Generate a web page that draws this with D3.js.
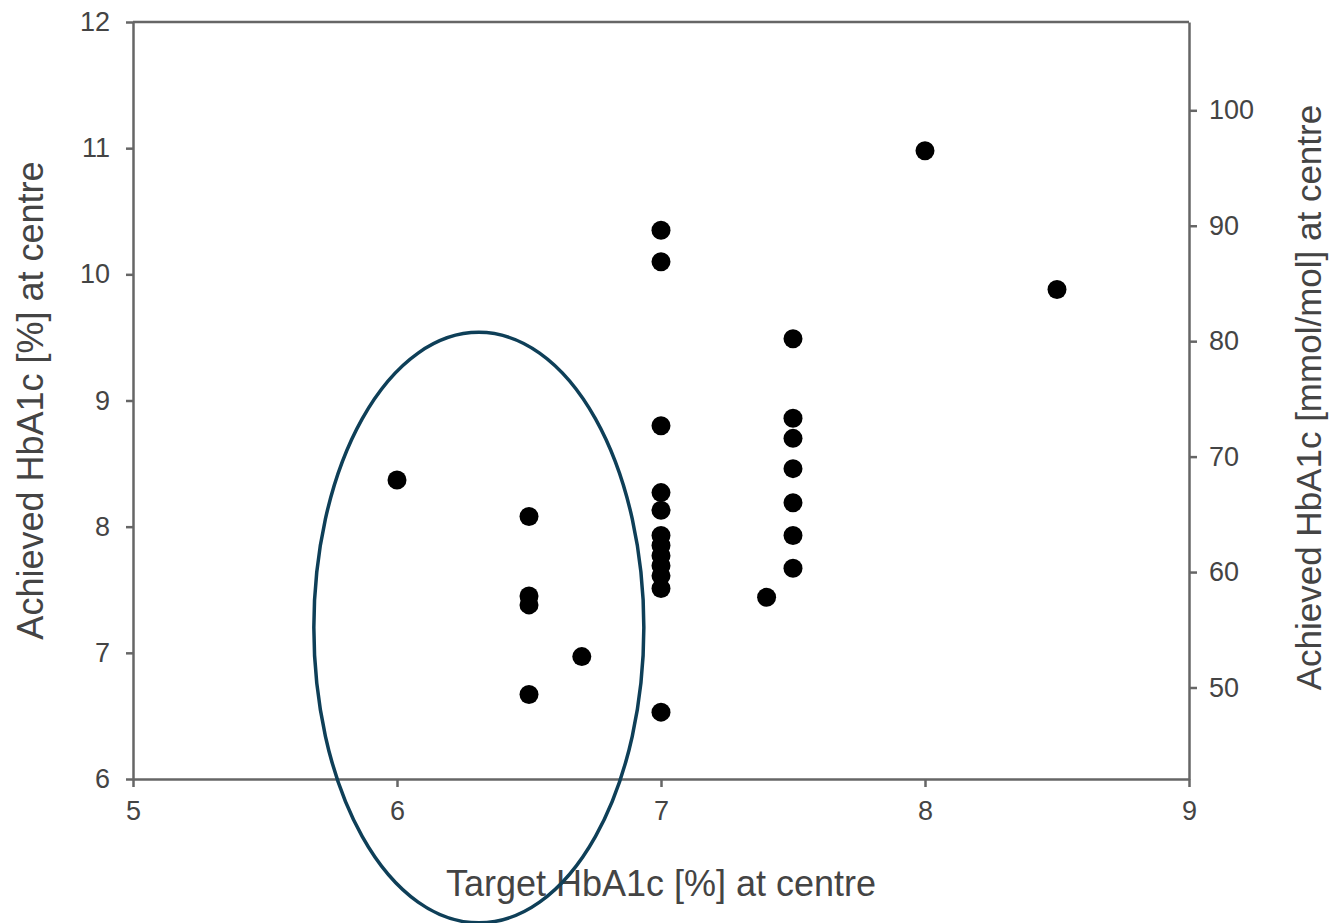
<html>
<head>
<meta charset="utf-8">
<script src="https://d3js.org/d3.v7.min.js"></script>
<style>
body { margin: 0; background: #fff; }
svg text { font-family: "Liberation Sans", Arial, sans-serif; fill: #444; }
.axis path, .axis line { stroke: #666; stroke-width: 2.5; }
</style>
</head>
<body>
<svg width="1332" height="923"></svg>
<script>
// target HbA1c (%) per centre
var targetPct = [6.0, 6.5, 6.5, 6.5, 6.5, 6.7,
  7.0, 7.0, 7.0, 7.0, 7.0, 7.0, 7.0, 7.0, 7.0, 7.0, 7.0, 7.0,
  7.4, 7.5, 7.5, 7.5, 7.5, 7.5, 7.5, 7.5, 8.0, 8.5];
// achieved HbA1c (%) per centre
var achievedPct = [8.37, 8.08, 7.45, 7.38, 6.67, 6.97,
  10.35, 10.10, 8.80, 8.27, 8.13, 7.93, 7.85, 7.77, 7.69, 7.61, 7.51, 6.53,
  7.44, 9.49, 8.86, 8.70, 8.46, 8.19, 7.93, 7.67, 10.98, 9.88];

var xTicks = [5, 6, 7, 8, 9];
var yTicks = [6, 7, 8, 9, 10, 11, 12];
var mmolTicks = [50, 60, 70, 80, 90, 100];

// highlight ellipse (centre x, centre y, radius x, radius y) in data units
var ring = [6.31, 7.20, 0.625, 2.34];

var toMmol = p => 10.929 * p - 23.5;

var svg = d3.select("svg"),
    margin = {top: 22, right: 143, bottom: 144, left: 133},
    width = +svg.attr("width"),
    height = +svg.attr("height");

var x = d3.scaleLinear().domain([5, 9]).range([margin.left, width - margin.right]);
var y = d3.scaleLinear().domain([6, 12]).range([height - margin.bottom, margin.top]);
var y2 = d3.scaleLinear().domain([toMmol(6), toMmol(12)]).range(y.range());

// frame
svg.append("line").attr("x1", x(5)).attr("x2", x(9)).attr("y1", y(12)).attr("y2", y(12))
    .attr("stroke", "#666").attr("stroke-width", 2.5);

svg.append("g").attr("class", "axis")
    .attr("transform", "translate(0," + y(6) + ")")
    .call(d3.axisBottom(x).tickValues(xTicks).tickFormat(d3.format("d"))
        .tickSize(8).tickSizeOuter(0).tickPadding(14))
    .selectAll("text").style("font-size", "27px");

svg.append("g").attr("class", "axis")
    .attr("transform", "translate(" + x(5) + ",0)")
    .call(d3.axisLeft(y).tickValues(yTicks).tickFormat(d3.format("d"))
        .tickSize(7).tickSizeOuter(0).tickPadding(16))
    .selectAll("text").style("font-size", "27px");

svg.append("g").attr("class", "axis")
    .attr("transform", "translate(" + x(9) + ",0)")
    .call(d3.axisRight(y2).tickValues(mmolTicks).tickSize(8).tickSizeOuter(0).tickPadding(12))
    .selectAll("text").style("font-size", "27px");

svg.selectAll(".axis .domain").attr("stroke", "#666");

// titles
svg.append("text")
    .attr("x", (x(5) + x(9)) / 2).attr("y", 896)
    .attr("text-anchor", "middle").style("font-size", "36px")
    .text("Target HbA1c [%] at centre");

svg.append("text")
    .attr("transform", "translate(43," + ((y(6) + y(12)) / 2) + ") rotate(-90)")
    .attr("text-anchor", "middle").style("font-size", "36px")
    .text("Achieved HbA1c [%] at centre");

svg.append("text")
    .attr("transform", "translate(1321," + (y(7.2) - 230) + ") rotate(-90)")
    .attr("text-anchor", "middle").style("font-size", "35px")
    .text("Achieved HbA1c [mmol/mol] at centre");

// points
svg.append("g").selectAll("circle")
    .data(targetPct.map((t, i) => [t, achievedPct[i]]))
    .enter().append("circle")
    .attr("cx", d => x(d[0]))
    .attr("cy", d => y(d[1]))
    .attr("r", 9.5)
    .attr("fill", "#000");

// highlight ellipse
svg.append("ellipse")
    .attr("cx", x(ring[0]))
    .attr("cy", y(ring[1]))
    .attr("rx", x(ring[0] + ring[2]) - x(ring[0]))
    .attr("ry", y(ring[1]) - y(ring[1] + ring[3]))
    .attr("fill", "none")
    .attr("stroke", "#0e3f58")
    .attr("stroke-width", 3.5);
</script>
</body>
</html>
